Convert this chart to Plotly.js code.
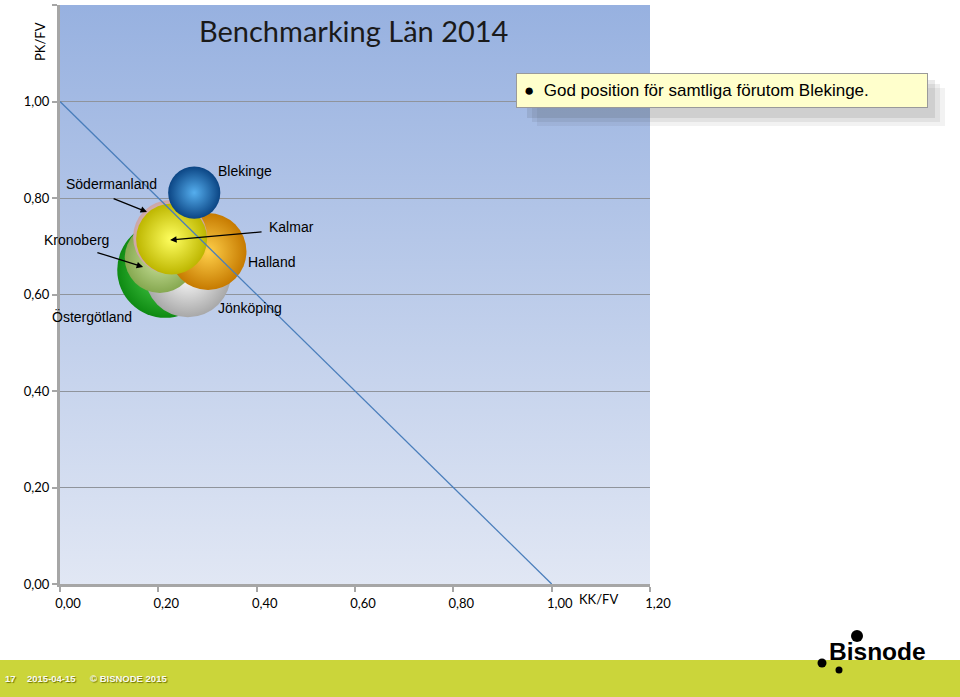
<!DOCTYPE html>
<html>
<head>
<meta charset="utf-8">
<script src="https://cdn.plot.ly/plotly-3.0.1.min.js"></script>
<style>
  html, body { margin: 0; padding: 0; background: #ffffff; }
  #chart { width: 960px; height: 697px; }
</style>
</head>
<body>
<div id="chart"></div>
<script>
// ---- data ----
const regions  = ['Östergötland', 'Jönköping', 'Kronoberg', 'Halland', 'Södermanland', 'Kalmar', 'Blekinge'];
const kkFv     = [0.214, 0.260, 0.203, 0.301, 0.224, 0.227, 0.273];   // x
const pkFv     = [0.651, 0.642, 0.676, 0.689, 0.719, 0.715, 0.811];   // y
const bubble   = [23.0, 18.5, 12.3, 14.8, 13.7, 12.6, 6.8];           // bubble size (area)
const refX     = [0, 1];
const refY     = [1, 0];
const tickVals = [0, 0.2, 0.4, 0.6, 0.8, 1.0, 1.2];

// ---- styles ----
const hiColors   = ['#58DC58', '#FFFFFF', '#CFE6A0', '#FFD04A', '#F6DCDC', '#FFFF60', '#55AEEE'];
const edgeColors = ['#0E8A12', '#A8A8A8', '#86A850', '#C67A00', '#CCA6A6', '#BDB600', '#0B4584'];

const W = 960, H = 697, L = 60, R = 310, T = 5, B = 113;
const pw = W - L - R, ph = H - T - B;
const px = v => (v - L) / pw;          // pixel -> paper x
const py = v => (H - B - v) / ph;      // pixel -> paper y

const bgSvg = '<svg xmlns="http://www.w3.org/2000/svg" width="100" height="100" preserveAspectRatio="none">' +
  '<defs><linearGradient id="g" x1="0" y1="0" x2="0" y2="1">' +
  '<stop offset="0" stop-color="#97B1E0"/><stop offset="1" stop-color="#E1E7F4"/></linearGradient></defs>' +
  '<rect width="100" height="100" fill="url(#g)"/></svg>';
const bgSrc = 'data:image/svg+xml;charset=utf-8,' + encodeURIComponent(bgSvg);

const lato = 'Lato, "Open Sans", sans-serif';
const arial = '"Liberation Sans", Arial, sans-serif';

const traces = [
  {
    type: 'scatter', mode: 'markers', x: kkFv, y: pkFv, text: regions,
    hoverinfo: 'text',
    marker: {
      size: bubble, sizemode: 'area', sizeref: 0.005,
      color: edgeColors, opacity: 1,
      gradient: { type: 'radial', color: hiColors },
      line: { width: 0 }
    },
    showlegend: false
  },
  {
    type: 'scatter', mode: 'lines', x: refX, y: refY,
    line: { color: '#4A7EBB', width: 1.3 }, hoverinfo: 'skip', showlegend: false
  }
];

const labelFont = { family: arial, size: 14, color: '#000000' };
const P = (text, x, y, font, extra) => Object.assign({
  text: text, xref: 'paper', yref: 'paper', x: px(x), y: py(y), xanchor: 'center', yanchor: 'middle',
  showarrow: false, font: font
}, extra || {});
const D = (text, x, y) => ({ text: text, x: x, y: y, xanchor: 'center', yanchor: 'middle', showarrow: false, font: labelFont });
const A = (x, y, ax, ay) => ({ text: '', x: x, y: y, ax: ax, ay: ay, axref: 'x', ayref: 'y',
  showarrow: true, arrowhead: 2, arrowsize: 1, arrowwidth: 1.3, arrowcolor: '#000000', standoff: 0, startstandoff: 0 });
const footFont = { family: arial, size: 9.5, color: '#FAFAF0', shadow: '1px 1px 1px #6E7400' };

const annotations = [
  P('Benchmarking Län 2014', 353, 30, { family: lato, size: 29, color: '#1A1A1A' }),
  P('PK/FV', 40, 42, { family: lato, size: 13, color: '#000000' }, { textangle: -90 }),
  P('KK/FV', 598, 599, { family: lato, size: 13, color: '#000000' }),
  D('Södermanland', 0.104, 0.829),
  D('Kronoberg', 0.033, 0.713),
  D('Östergötland', 0.065, 0.555),
  D('Blekinge', 0.376, 0.856),
  D('Kalmar', 0.470, 0.740),
  D('Halland', 0.431, 0.667),
  D('Jönköping', 0.386, 0.572),
  A(0.177, 0.771, 0.106, 0.800),
  A(0.169, 0.657, 0.073, 0.688),
  A(0.224, 0.713, 0.413, 0.730),
  P('●  God position för samtliga förutom Blekinge.', 722, 90.5, { family: arial, size: 17, color: '#000000' },
    { width: 396, align: 'left', bgcolor: '#FFFFCC', bordercolor: '#9A9A9A', borderwidth: 1, borderpad: 7 }),
  P('<b>17</b>', 10, 678, footFont),
  P('<b>2015-04-15</b>', 51, 678, footFont),
  P('<b>© BISNODE 2015</b>', 128, 678, footFont),
  P('<b>Bisnode</b>', 877, 652, { family: arial, size: 24.5, color: '#000000' })
];

const rect = (x0, y0, x1, y1, fill, layer) => ({
  type: 'rect', xref: 'paper', yref: 'paper', x0: px(x0), x1: px(x1), y0: py(y0), y1: py(y1),
  fillcolor: fill, line: { width: 0 }, layer: layer || 'above'
});
const dot = (cx, cy, r) => ({
  type: 'circle', xref: 'paper', yref: 'paper', x0: px(cx - r), x1: px(cx + r), y0: py(cy + r), y1: py(cy - r),
  fillcolor: '#000000', line: { width: 0 }, layer: 'above'
});

const shapes = [
  rect(537, 88, 945, 126, 'rgba(40,40,40,0.06)'),
  rect(532, 84, 940, 122, 'rgba(40,40,40,0.08)'),
  rect(527, 80, 935, 118, 'rgba(40,40,40,0.10)'),
  rect(-5, 660, 965, 700, '#CBD53A'),
  dot(857, 636, 6),
  dot(822, 663, 4.5),
  dot(839, 670, 3.5)
];

const axisCommon = {
  range: [0, 1.2], tickvals: tickVals, tickformat: '.2f', zeroline: false,
  showline: true, linecolor: '#A6A6A6', linewidth: 3,
  ticks: 'outside', ticklen: 5, tickwidth: 2, tickcolor: '#A6A6A6',
  tickfont: { family: lato, size: 13, color: '#000000' }, fixedrange: true
};

const layout = {
  width: W, height: H,
  margin: { l: L, r: R, t: T, b: B, pad: 0 },
  paper_bgcolor: '#FFFFFF', plot_bgcolor: 'rgba(0,0,0,0)',
  separators: ', ',
  xaxis: Object.assign({}, axisCommon, { showgrid: false, ticklabelshift: 8 }),
  yaxis: Object.assign({}, axisCommon, { showgrid: true, gridcolor: '#8F949C', gridwidth: 1 }),
  images: [{ source: bgSrc, xref: 'paper', yref: 'paper', x: 0, y: 1, sizex: 1, sizey: 1,
    xanchor: 'left', yanchor: 'top', sizing: 'stretch', layer: 'below' }],
  annotations: annotations,
  shapes: shapes,
  showlegend: false
};

Plotly.newPlot('chart', traces, layout, { displayModeBar: false, staticPlot: true });
</script>
</body>
</html>
